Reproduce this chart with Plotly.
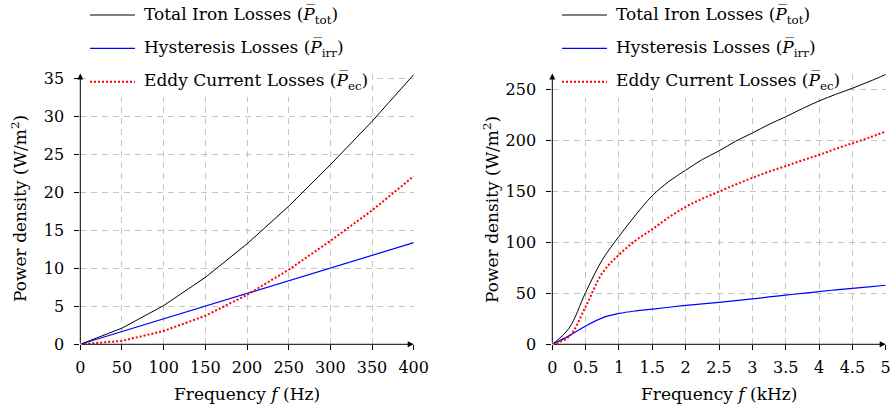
import plotly.graph_objects as go

# ---- data: low-frequency range (Hz) ----
freq_hz = [0, 50, 100, 150, 200, 250, 300, 350, 400]
total_hz = [0, 2.12, 5.09, 8.8, 13.2, 18.15, 23.6, 29.3, 35.45]
hyst_hz = [0, 1.67, 3.34, 5.01, 6.68, 8.35, 10.02, 11.69, 13.36]
eddy_hz = [0, 0.45, 1.75, 3.75, 6.5, 9.8, 13.6, 17.6, 22.1]

# ---- data: high-frequency range (kHz) ----
freq_khz = [0, 0.25, 0.5, 0.75, 1.0, 1.25, 1.5, 1.75, 2.0, 2.25, 2.5, 2.75,
            3.0, 3.25, 3.5, 3.75, 4.0, 4.25, 4.5, 4.75, 5.0]
total_khz = [0, 15.7, 51, 83, 106, 127, 146, 160, 171, 181.5, 190, 199.5,
             207.5, 216, 223.5, 231.5, 239, 245.5, 251.5, 258, 265]
hyst_khz = [0, 8.3, 18, 26, 30.3, 32.8, 34.5, 36.4, 38.2, 39.7, 41.2, 42.9,
            44.6, 46.5, 48.3, 50, 51.8, 53.5, 55, 56.5, 58]
eddy_khz = [0, 7.5, 37, 70, 88, 102, 113, 124.8, 135, 143, 150, 157,
            163.5, 169.6, 175, 180.7, 186, 192, 197.5, 203, 209]

# ---- axis ticks ----
ticks_hz = [0, 50, 100, 150, 200, 250, 300, 350, 400]
ticks_khz = [0, 0.5, 1, 1.5, 2, 2.5, 3, 3.5, 4, 4.5, 5]
ticklabels_khz = ["0", "0.5", "1", "1.5", "2", "2.5", "3", "3.5", "4", "4.5", "5"]
yticks_left = [0, 5, 10, 15, 20, 25, 30, 35]
yticks_right = [0, 50, 100, 150, 200, 250]

legend_labels = [
    "Total Iron Losses (<i>P\u0305</i><sub>tot</sub>)",
    "Hysteresis Losses (<i>P\u0305</i><sub>irr</sub>)",
    "Eddy Current Losses (<i>P\u0305</i><sub>ec</sub>)",
]

W, H = 890, 410
FONT = "DejaVu Serif"
FS = 17
FS_TICK = 16


def px(x):
    return x / W


def py(y):
    return 1 - y / H


BLACK = "#000000"
BLUE = "#0000ff"
RED = "#ff0000"
styles = [
    dict(color=BLACK, width=1),
    dict(color=BLUE, width=1.2),
    dict(color=RED, width=2, dash="2px,2px"),
]

fig = go.Figure()

for ys, st in zip([total_hz, hyst_hz, eddy_hz], styles):
    fig.add_trace(go.Scatter(x=freq_hz, y=ys, mode="lines", line=st,
                             xaxis="x", yaxis="y", showlegend=False))
for ys, st in zip([total_khz, hyst_khz, eddy_khz], styles):
    fig.add_trace(go.Scatter(x=freq_khz, y=ys, mode="lines",
                             line=dict(shape="spline", smoothing=1.0, **st),
                             xaxis="x2", yaxis="y2", showlegend=False))

grid = dict(showgrid=True, gridcolor="#c4c4c4", gridwidth=1, griddash="6px,5px",
            zeroline=False, showline=False, ticks="outside", ticklen=5,
            tickcolor=BLACK, tickwidth=1, automargin=False,
            ticklabeloverflow="allow",
            tickfont=dict(family=FONT, size=FS_TICK, color=BLACK))

y_dom = [py(344.3), py(73.5)]
fig.update_layout(
    width=W, height=H,
    margin=dict(l=0, r=0, t=0, b=0, pad=0),
    paper_bgcolor="white", plot_bgcolor="white",
    xaxis=dict(domain=[px(80.3), px(413.7)], range=[0, 400],
               tickvals=ticks_hz, anchor="y", ticklabelstandoff=3, **grid),
    yaxis=dict(domain=y_dom, range=[0, 35.6],
               tickvals=yticks_left, anchor="x", ticklabelstandoff=7, **grid),
    xaxis2=dict(domain=[px(552.3), px(885.7)], range=[0, 5],
                tickvals=ticks_khz, ticktext=ticklabels_khz, anchor="y2",
                ticklabelstandoff=3, **grid),
    yaxis2=dict(domain=y_dom, range=[0, 266],
                tickvals=yticks_right, anchor="x2", ticklabelstandoff=7, **grid),
)

# legend backgrounds hide the grid but stay under the curves
fig.add_shape(type="rect", xref="x", yref="y", x0=7, x1=350, y0=32.5, y1=40,
              fillcolor="white", line_width=0, layer="between")
fig.add_shape(type="rect", xref="x2", yref="y2", x0=0.085, x1=4.39, y0=242.5, y1=280,
              fillcolor="white", line_width=0, layer="between")

annotations = []

# axis lines with arrow heads
for xr, yr, xmax, ymax in [("x", "y", 400, 35.6), ("x2", "y2", 5, 266)]:
    annotations.append(dict(xref=xr, yref=yr, axref=xr, ayref=yr, x=xmax, y=0,
                            ax=0, ay=0, text="", showarrow=True, arrowhead=2,
                            arrowsize=1.2, arrowwidth=1, arrowcolor=BLACK, standoff=0))
    annotations.append(dict(xref=xr, yref=yr, axref=xr, ayref=yr, x=0, y=ymax,
                            ax=0, ay=0, text="", showarrow=True, arrowhead=2,
                            arrowsize=1.2, arrowwidth=1, arrowcolor=BLACK, standoff=0))

# axis titles
for xc in [19, 491]:
    annotations.append(dict(xref="paper", yref="paper", x=px(xc), y=py(209),
                            text="Power density (W/m<sup>2</sup>)", textangle=-90,
                            showarrow=False, xanchor="center", yanchor="middle",
                            font=dict(family=FONT, size=FS, color=BLACK)))
annotations.append(dict(xref="paper", yref="paper", x=px(247), y=py(394),
                        text="Frequency <i>f</i> (Hz)", showarrow=False,
                        xanchor="center", yanchor="middle",
                        font=dict(family=FONT, size=FS, color=BLACK)))
annotations.append(dict(xref="paper", yref="paper", x=px(719), y=py(394),
                        text="Frequency <i>f</i> (kHz)", showarrow=False,
                        xanchor="center", yanchor="middle",
                        font=dict(family=FONT, size=FS, color=BLACK)))

# legends: line samples and labels
rows_y = [15, 48.3, 81.7]
for x_line0, x_text in [(90, 142), (562, 614)]:
    for ry, st, lab in zip(rows_y, styles, legend_labels):
        fig.add_shape(type="line", xref="paper", yref="paper",
                      x0=px(x_line0), x1=px(x_line0 + 45), y0=py(ry), y1=py(ry),
                      line=st, layer="above")
        annotations.append(dict(xref="paper", yref="paper", x=px(x_text), y=py(ry),
                                text=lab, showarrow=False, xanchor="left",
                                yanchor="middle",
                                font=dict(family=FONT, size=FS, color=BLACK)))

fig.update_layout(annotations=annotations)
fig.write_html("out.html")
